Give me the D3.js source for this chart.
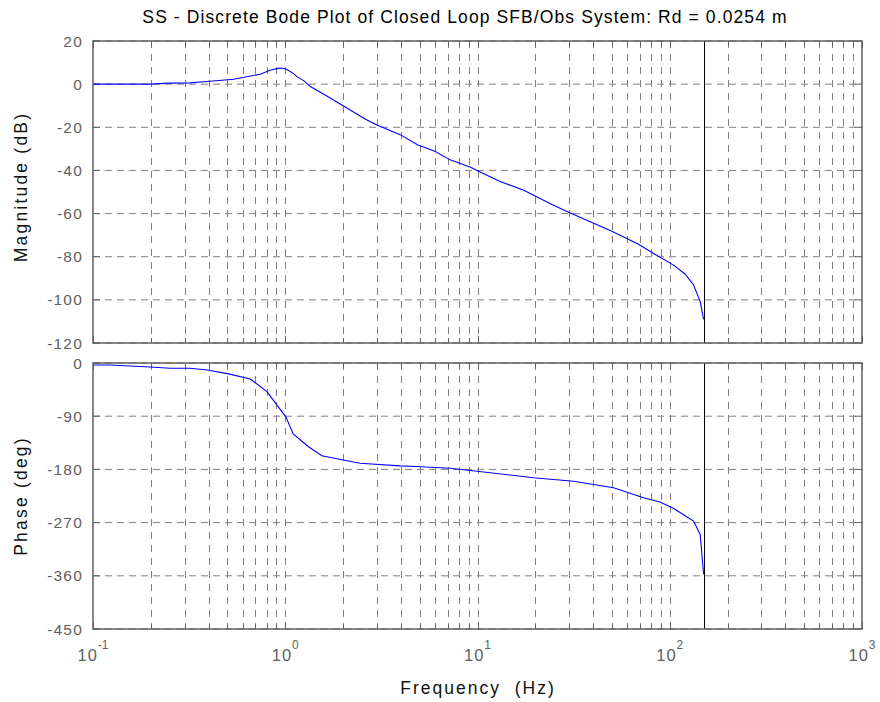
<!DOCTYPE html>
<html>
<head>
<meta charset="utf-8">
<script src="https://cdn.jsdelivr.net/npm/d3@7"></script>
<style>
  body { margin: 0; background: #fff; }
  svg { font-family: "Liberation Sans", Arial, sans-serif; }
</style>
</head>
<body>
<div id="chart"></div>
<script>
// --- data ---
const titleText = "SS - Discrete Bode Plot of Closed Loop SFB/Obs System: Rd = 0.0254 m";

const magFreq = [0.1, 0.15, 0.2, 0.25, 0.32, 0.39, 0.54, 0.74, 0.84, 0.92, 0.96, 1.02, 1.1, 1.15, 1.25, 1.35, 1.58, 2.0, 2.6, 3.0, 3.96, 4.9, 6.0, 7.2, 9.2, 9.94, 13.1, 17.4, 24.4, 30.4, 50, 68.8, 82.4, 104.7, 120, 133, 138.5, 144, 150];
const magDb   = [0, 0, 0, 0.45, 0.6, 1.2, 2.3, 4.6, 6.6, 7.3, 7.5, 6.8, 5, 3.5, 1.5, -1.1, -4.6, -10, -16.2, -18.9, -23.4, -28.2, -31.1, -35.1, -38.5, -40, -45.1, -49.2, -55.8, -59.7, -68.2, -74.2, -78.5, -83.9, -88, -93.1, -97, -100.8, -109];

const phaseFreq = [0.1, 0.122, 0.198, 0.252, 0.32, 0.392, 0.5, 0.658, 0.803, 0.9, 1.01, 1.10, 1.32, 1.55, 2.0, 2.45, 3.96, 4.8, 7.21, 9.94, 19.5, 31.6, 51, 73, 89, 104.7, 133, 144, 150];
const phaseDeg  = [-3.4, -3.4, -6.8, -9, -9, -11.8, -18, -27, -48.5, -70, -92, -120, -141.6, -157, -164, -169.7, -174, -175, -178, -183, -194, -200, -211, -228, -235, -246, -267.5, -290, -357.5];

const magTicks = [20, 0, -20, -40, -60, -80, -100, -120];
const phaseTicks = [0, -90, -180, -270, -360, -450];
const decadeExps = [-1, 0, 1, 2, 3];
const nyquistHz = 150;

// --- layout ---
const W = 880, H = 702;
const left = 93, right = 862;
const magTop = 41, magBottom = 343;
const phTop = 363, phBottom = 629;

const axisCol = "#606060", gridCol = "#808080";

const svg = d3.select("#chart").append("svg")
    .attr("width", W).attr("height", H);

const x = d3.scaleLog().domain([0.1, 1000]).range([left, right]);

// minor log positions 1..9 per decade
const gridFreqs = [];
for (let e = -1; e < 3; e++) {
    for (let m = 1; m <= 9; m++) gridFreqs.push(m * Math.pow(10, e));
}
gridFreqs.push(1000);

function drawPanel(top, bottom, domain, ticks, freqs, vals) {
    const y = d3.scaleLinear().domain(domain).range([bottom, top]);
    const g = svg.append("g");

    // horizontal grid
    g.selectAll(".hgrid").data(ticks).enter().append("line")
        .attr("x1", left).attr("x2", right)
        .attr("y1", d => y(d)).attr("y2", d => y(d))
        .attr("stroke", gridCol).attr("stroke-width", 1)
        .attr("stroke-dasharray", "7,5");

    // vertical grid
    g.selectAll(".vgrid").data(gridFreqs.slice(1, -1)).enter().append("line")
        .attr("x1", d => Math.round(x(d)) + 0.5).attr("x2", d => Math.round(x(d)) + 0.5)
        .attr("y1", top).attr("y2", bottom)
        .attr("stroke", gridCol).attr("stroke-width", 1)
        .attr("stroke-dasharray", "7,6");

    // ticks (inward) on x, top and bottom
    g.selectAll(".xt").data(gridFreqs).enter().append("line")
        .attr("x1", d => Math.round(x(d)) + 0.5).attr("x2", d => Math.round(x(d)) + 0.5)
        .attr("y1", bottom).attr("y2", d => bottom - (Number.isInteger(Math.log10(d)) ? 7 : 5))
        .attr("stroke", axisCol);
    g.selectAll(".xt2").data(gridFreqs).enter().append("line")
        .attr("x1", d => Math.round(x(d)) + 0.5).attr("x2", d => Math.round(x(d)) + 0.5)
        .attr("y1", top).attr("y2", d => top + (Number.isInteger(Math.log10(d)) ? 7 : 5))
        .attr("stroke", axisCol);
    // y ticks left and right
    g.selectAll(".yt").data(ticks).enter().append("line")
        .attr("x1", left).attr("x2", left + 7)
        .attr("y1", d => y(d)).attr("y2", d => y(d))
        .attr("stroke", axisCol);
    g.selectAll(".yt2").data(ticks).enter().append("line")
        .attr("x1", right).attr("x2", right - 7)
        .attr("y1", d => y(d)).attr("y2", d => y(d))
        .attr("stroke", axisCol);

    // y tick labels
    g.selectAll(".yl").data(ticks).enter().append("text")
        .attr("x", left - 10).attr("y", d => y(d) + 5.5)
        .attr("text-anchor", "end")
        .attr("font-size", 15.5).attr("letter-spacing", 1.2)
        .attr("fill", axisCol)
        .text(d => d);

    // nyquist line
    g.append("line")
        .attr("x1", Math.round(x(nyquistHz)) + 0.5).attr("x2", Math.round(x(nyquistHz)) + 0.5)
        .attr("y1", top).attr("y2", bottom)
        .attr("stroke", "#000").attr("stroke-width", 1);

    // response curve
    const line = d3.line()
        .x((d, i) => x(freqs[i]))
        .y(d => y(d));
    g.append("path")
        .datum(vals)
        .attr("d", line)
        .attr("fill", "none")
        .attr("stroke", "#0000ff")
        .attr("stroke-width", 1.1);

    // axes box
    g.append("rect")
        .attr("x", left).attr("y", top)
        .attr("width", right - left).attr("height", bottom - top)
        .attr("fill", "none")
        .attr("stroke", axisCol).attr("stroke-width", 1.5);
    return y;
}

drawPanel(magTop, magBottom, [-120, 20], magTicks, magFreq, magDb);
drawPanel(phTop, phBottom, [-450, 0], phaseTicks, phaseFreq, phaseDeg);

// x tick labels 10^n
const xl = svg.selectAll(".xl").data(decadeExps).enter().append("text")
    .attr("x", d => x(Math.pow(10, d)))
    .attr("y", 661)
    .attr("text-anchor", "middle")
    .attr("font-size", 16.5)
    .attr("fill", axisCol);
xl.append("tspan").attr("letter-spacing", 1).text("10");
xl.append("tspan")
    .attr("dy", -12)
    .attr("font-size", 12)
    .text(d => d);

// title and labels
svg.append("text")
    .attr("x", 465).attr("y", 23)
    .attr("text-anchor", "middle")
    .attr("font-size", 17.5).attr("letter-spacing", 1.1)
    .attr("fill", "#000")
    .text(titleText);

svg.append("text")
    .attr("x", 478).attr("y", 694)
    .attr("text-anchor", "middle")
    .attr("font-size", 17.5).attr("letter-spacing", 2)
    .attr("fill", "#111")
    .attr("xml:space", "preserve")
    .text("Frequency  (Hz)");

svg.append("text")
    .attr("transform", `translate(27,${(magTop + magBottom) / 2 - 5}) rotate(-90)`)
    .attr("text-anchor", "middle")
    .attr("font-size", 17.5).attr("letter-spacing", 2.2)
    .attr("fill", "#111")
    .text("Magnitude (dB)");

svg.append("text")
    .attr("transform", `translate(27,${(phTop + phBottom) / 2}) rotate(-90)`)
    .attr("text-anchor", "middle")
    .attr("font-size", 17.5).attr("letter-spacing", 2.2)
    .attr("fill", "#111")
    .text("Phase (deg)");
</script>
</body>
</html>
